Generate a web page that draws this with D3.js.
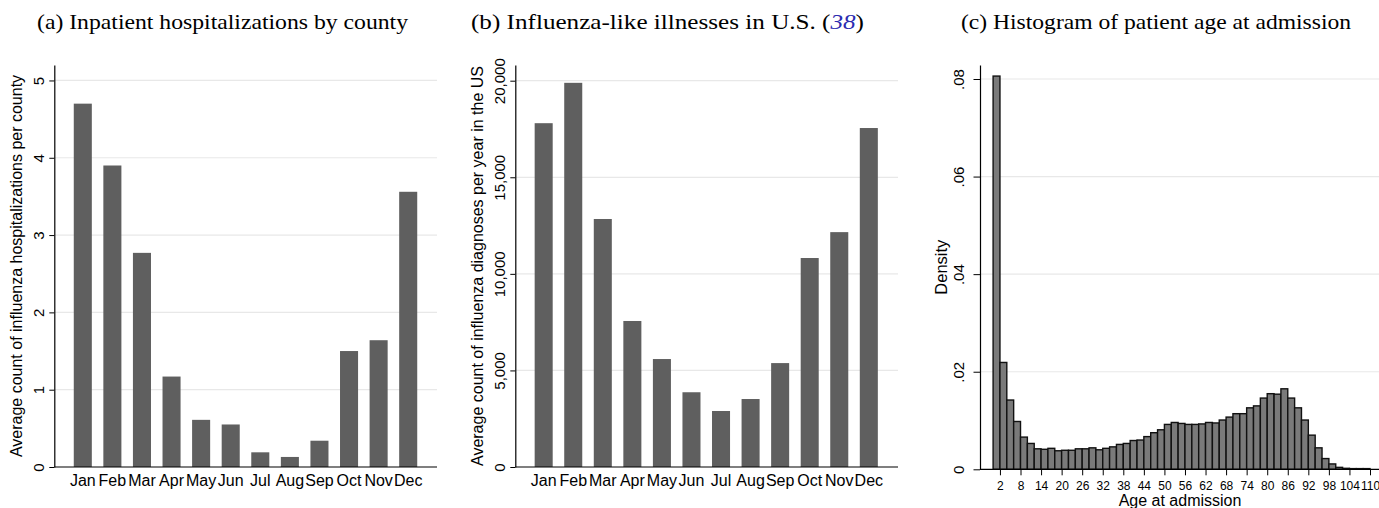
<!DOCTYPE html>
<html>
<head>
<meta charset="utf-8">
<script src="https://cdn.jsdelivr.net/npm/d3@7"></script>
<style>
  body { margin: 0; background: #fff; }
  svg { display: block; }
  text { font-family: "Liberation Sans", Arial, sans-serif; fill: #000; }
  .title { font-family: "Liberation Serif", "DejaVu Serif", serif; font-size: 21px; }
  .grid { stroke: #e8e8e8; stroke-width: 1.2; }
  .axis-line { stroke: #000; stroke-width: 1.2; }
</style>
</head>
<body>
<div id="chart"></div>
<script>

// categories shared by panels (a) and (b)
var months = ["Jan", "Feb", "Mar", "Apr", "May", "Jun", "Jul", "Aug", "Sep", "Oct", "Nov", "Dec"];

// (a) average count of influenza hospitalizations per county
var countyHosp = [4.70, 3.90, 2.77, 1.17, 0.61, 0.55, 0.19, 0.13, 0.34, 1.50, 1.64, 3.56];
var countyTicks = [0, 1, 2, 3, 4, 5];

// (b) average count of influenza diagnoses per year in the US
var iliCounts = [17800, 19890, 12840, 7560, 5590, 3870, 2900, 3520, 5380, 10820, 12160, 17550];
var iliTicks = [0, 5000, 10000, 15000, 20000];

// (c) histogram of age at admission, 2-year bins starting at these ages
var binStarts = [0, 2, 4, 6, 8, 10, 12, 14, 16, 18, 20, 22, 24, 26, 28, 30, 32, 34, 36, 38,
  40, 42, 44, 46, 48, 50, 52, 54, 56, 58, 60, 62, 64, 66, 68, 70, 72, 74, 76, 78,
  80, 82, 84, 86, 88, 90, 92, 94, 96, 98, 100, 102, 104, 106, 108];
var ageDensity = [0.0806, 0.0219, 0.0142, 0.0098, 0.0066, 0.0053, 0.0042, 0.0041, 0.0043, 0.0038,
  0.0039, 0.0039, 0.0042, 0.0042, 0.0044, 0.0040, 0.0043, 0.0046, 0.0051, 0.0053,
  0.0059, 0.0060, 0.0067, 0.0075, 0.0081, 0.0092, 0.0096, 0.0094, 0.0092, 0.0092,
  0.0093, 0.0096, 0.0095, 0.0101, 0.0107, 0.0114, 0.0114, 0.0126, 0.0130, 0.0146,
  0.0155, 0.0154, 0.0165, 0.0146, 0.0126, 0.0101, 0.0070, 0.0044, 0.0022, 0.0011,
  0.0004, 0.0002, 0.00014, 0.00014, 0.00014];
var binWidth = 2;
var densityTicks = [0, 0.02, 0.04, 0.06, 0.08];
var ageTicks = [2, 8, 14, 20, 26, 32, 38, 44, 50, 56, 62, 68, 74, 80, 86, 92, 98, 104, 110];

var svgWidth = 1379;
var svgHeight = 508;

var svg = d3.select("#chart")
  .append("svg")
  .attr("width", svgWidth)
  .attr("height", svgHeight);

svg.append("rect")
  .attr("width", svgWidth)
  .attr("height", svgHeight)
  .attr("fill", "#fff");

// rotate the y tick labels so they read bottom-to-top like Stata does
function rotateYLabels(axisG, offset, size) {
  axisG.selectAll(".tick text")
    .attr("x", 0)
    .attr("y", 0)
    .attr("dy", null)
    .attr("text-anchor", "middle")
    .attr("font-size", size + "px")
    .attr("font-family", "Liberation Sans, Arial, sans-serif")
    .attr("transform", `translate(${offset},0) rotate(-90)`);
}

// monthly bar panel, used for (a) and (b)
function drawBarPanel(box, values, ticks, yMax, tickFormat, yTitle, bandRange) {
  var g = svg.append("g");

  var x = d3.scaleBand()
    .domain(months)
    .range(bandRange)
    .paddingInner(0.39)
    .paddingOuter(0.195);

  var y = d3.scaleLinear()
    .domain([0, yMax])
    .range([box.bottom, box.top]);

  // gridlines
  g.selectAll(".grid")
    .data(ticks.filter(d => d > 0))
    .enter()
    .append("line")
    .attr("class", "grid")
    .attr("x1", box.left)
    .attr("x2", box.right)
    .attr("y1", d => y(d))
    .attr("y2", d => y(d));

  // bars
  g.selectAll(".bar")
    .data(values)
    .enter()
    .append("rect")
    .attr("class", "bar")
    .attr("x", (d, i) => x(months[i]))
    .attr("width", x.bandwidth())
    .attr("y", d => y(d))
    .attr("height", d => box.bottom - y(d))
    .attr("fill", "#5f5f5f");

  // x axis line + month labels
  g.append("line")
    .attr("class", "axis-line")
    .attr("x1", box.left)
    .attr("x2", box.right)
    .attr("y1", box.bottom)
    .attr("y2", box.bottom);

  var xAxis = g.append("g")
    .attr("transform", `translate(0, ${box.bottom})`)
    .call(d3.axisBottom(x).tickSize(0).tickPadding(8));
  xAxis.select(".domain").remove();
  xAxis.selectAll(".tick text")
    .attr("font-size", "16px")
    .attr("font-family", "Liberation Sans, Arial, sans-serif");

  // y axis
  var yAxis = g.append("g")
    .attr("transform", `translate(${box.left}, 0)`)
    .call(d3.axisLeft(y).tickValues(ticks).tickFormat(tickFormat).tickSize(5).tickSizeOuter(0));
  yAxis.select(".domain").attr("stroke-width", 1.2);
  rotateYLabels(yAxis, -10.5, 15);

  g.append("text")
    .attr("transform", `translate(${box.left - 32}, ${(box.top + box.bottom) / 2}) rotate(-90)`)
    .attr("text-anchor", "middle")
    .attr("font-size", "16px")
    .text(yTitle);
}

drawBarPanel({left: 54.3, right: 437, top: 65, bottom: 467},
  countyHosp, countyTicks, 5.2, d3.format("d"),
  "Average count of influenza hospitalizations per county", [68, 423]);

drawBarPanel({left: 515.3, right: 898, top: 65, bottom: 467},
  iliCounts, iliTicks, 20813, d3.format(","),
  "Average count of influenza diagnoses per year in the US", [528.9, 883.6]);

// (c) histogram
var hBox = {left: 980, right: 1379, top: 65, bottom: 469.3};
var hg = svg.append("g");

var xAge = d3.scaleLinear()
  .domain([0, 110])
  .range([993.1, 1370]);

var yDens = d3.scaleLinear()
  .domain([0, 0.08287])
  .range([hBox.bottom, hBox.top]);

hg.selectAll(".grid")
  .data(densityTicks.filter(d => d > 0))
  .enter()
  .append("line")
  .attr("class", "grid")
  .attr("x1", hBox.left)
  .attr("x2", hBox.right)
  .attr("y1", d => yDens(d))
  .attr("y2", d => yDens(d));

hg.selectAll(".hbar")
  .data(ageDensity)
  .enter()
  .append("rect")
  .attr("class", "hbar")
  .attr("x", (d, i) => xAge(binStarts[i]))
  .attr("width", xAge(binWidth) - xAge(0))
  .attr("y", d => yDens(d))
  .attr("height", d => hBox.bottom - yDens(d))
  .attr("fill", "#7a7a7a")
  .attr("stroke", "#111")
  .attr("stroke-width", 1.4);

hg.append("line")
  .attr("class", "axis-line")
  .attr("x1", hBox.left)
  .attr("x2", hBox.right)
  .attr("y1", hBox.bottom)
  .attr("y2", hBox.bottom);

var ageAxis = hg.append("g")
  .attr("transform", `translate(0, ${hBox.bottom})`)
  .call(d3.axisBottom(xAge).tickValues(ageTicks).tickSize(6).tickPadding(6).tickSizeOuter(0));
ageAxis.select(".domain").remove();
ageAxis.selectAll(".tick text")
  .attr("font-size", "12px")
  .attr("font-family", "Liberation Sans, Arial, sans-serif");

var densAxis = hg.append("g")
  .attr("transform", `translate(${hBox.left}, 0)`)
  .call(d3.axisLeft(yDens).tickValues(densityTicks)
    .tickFormat(d => d === 0 ? "0" : d3.format(".2f")(d).replace(/^0/, ""))
    .tickSize(6.5).tickSizeOuter(0));
densAxis.select(".domain").attr("stroke-width", 1.2);
rotateYLabels(densAxis, -16.5, 15);

hg.append("text")
  .attr("transform", `translate(${hBox.left - 33}, ${(hBox.top + hBox.bottom) / 2}) rotate(-90)`)
  .attr("text-anchor", "middle")
  .attr("font-size", "16.5px")
  .text("Density");

// the axis title sits right at the bottom edge, as in the original figure
hg.append("text")
  .attr("x", 1180)
  .attr("y", 506)
  .attr("text-anchor", "middle")
  .attr("font-size", "16px")
  .text("Age at admission");

// panel titles (serif, stretched to the widths of the original Palatino text)
svg.append("text")
  .attr("class", "title")
  .attr("x", 37)
  .attr("y", 28.5)
  .attr("textLength", 371)
  .attr("lengthAdjust", "spacingAndGlyphs")
  .text("(a) Inpatient hospitalizations by county");

var titleB = svg.append("text")
  .attr("class", "title")
  .attr("x", 471)
  .attr("y", 28.5)
  .attr("textLength", 393)
  .attr("lengthAdjust", "spacingAndGlyphs");
titleB.append("tspan").text("(b) Influenza-like illnesses in U.S. (");
titleB.append("tspan")
  .attr("font-style", "italic")
  .attr("fill", "#2b2bb0")
  .text("38");
titleB.append("tspan").text(")");

svg.append("text")
  .attr("class", "title")
  .attr("x", 961)
  .attr("y", 28.5)
  .attr("textLength", 390)
  .attr("lengthAdjust", "spacingAndGlyphs")
  .text("(c) Histogram of patient age at admission");

</script>
</body>
</html>
